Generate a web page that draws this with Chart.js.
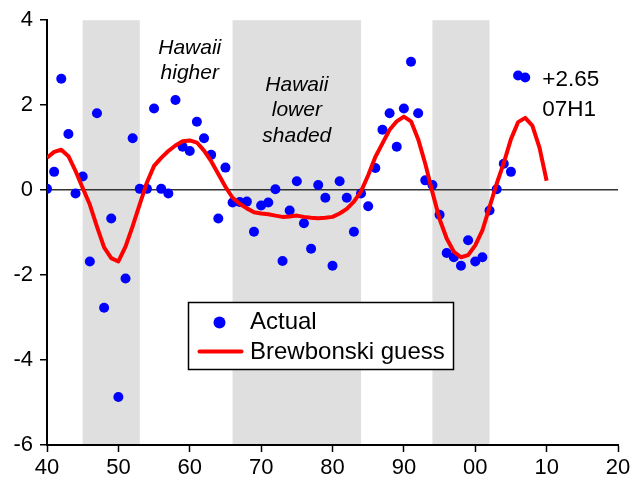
<!DOCTYPE html>
<html>
<head>
<meta charset="utf-8">
<script src="https://cdn.jsdelivr.net/npm/chart.js@4.4.1/dist/chart.umd.min.js"></script>
<style>
  html, body { margin: 0; padding: 0; background: #fff; }
</style>
</head>
<body>
<canvas id="chart" width="640" height="484"></canvas>
<script>
// actual values, one per year (40 = 1940, 100 = 2000)
const actualYears = [
  40, 41, 42, 43, 44, 45, 46, 47, 48, 49, 50, 51, 52, 53, 54, 55, 56, 57, 58, 59,
  60, 61, 62, 63, 64, 65, 66, 67, 68, 69, 70, 71, 72, 73, 74, 75, 76, 77, 78, 79,
  80, 81, 82, 83, 84, 85, 86, 87, 88, 89, 90, 91, 92, 93, 94, 95, 96, 97, 98, 99,
  100, 101, 102, 103, 104, 105, 106, 107
];
const actualValues = [
  0.03, 0.43, 2.62, 1.32, -0.08, 0.32, -1.68, 1.81, -2.77, -0.67,
  -4.87, -2.08, 1.22, 0.03, 0.03, 1.92, 0.03, -0.08, 2.12, 1.02,
  0.92, 1.61, 1.22, 0.83, -0.67, 0.53, -0.29, -0.28, -0.27, -0.98,
  -0.36, -0.29, 0.02, -1.67, -0.48, 0.21, -0.78, -1.38, 0.12, -0.18,
  -1.78, 0.21, -0.18, -0.98, -0.08, -0.38, 0.52, 1.42, 1.81, 1.02,
  1.92, 3.02, 1.81, 0.23, 0.12, -0.58, -1.48, -1.58, -1.78, -1.18,
  -1.68, -1.58, -0.48, 0.02, 0.62, 0.43, 2.70, 2.65
];

// Brewbonski guess
const guessYears = [
  40, 41, 42, 43, 44, 45, 46, 47, 48, 49, 50, 51, 52, 53, 54, 55, 56, 57, 58, 59,
  60, 61, 62, 63, 64, 65, 66, 67, 68, 69, 70, 71, 72, 73, 74, 75, 76, 77, 78, 79,
  80, 81, 82, 83, 84, 85, 86, 87, 88, 89, 90, 91, 92, 93, 94, 95, 96, 97, 98, 99,
  100, 101, 102, 103, 104, 105, 106, 107, 108, 109, 110
];
const guessValues = [
  0.76, 0.90, 0.95, 0.80, 0.45, 0.05, -0.34, -0.86, -1.35, -1.60,
  -1.68, -1.33, -0.85, -0.33, 0.18, 0.57, 0.76, 0.92, 1.05, 1.15,
  1.17, 1.12, 0.93, 0.68, 0.38, 0.08, -0.18, -0.32, -0.43, -0.52,
  -0.55, -0.57, -0.60, -0.63, -0.62, -0.60, -0.63, -0.65, -0.66, -0.65,
  -0.63, -0.55, -0.44, -0.27, -0.03, 0.35, 0.78, 1.10, 1.42, 1.62,
  1.73, 1.62, 1.20, 0.62, -0.05, -0.68, -1.14, -1.45, -1.58, -1.53,
  -1.30, -0.95, -0.40, 0.15, 0.64, 1.20, 1.60, 1.70, 1.52, 1.00,
  0.22
];

// periods when Hawaii was lower
const shadedSpans = [[45, 53], [66, 84], [94, 102]];

const notes = [
  { x: 60, y: 3.21, lines: ["Hawaii", "higher"], italic: true, size: 21, align: "center", gap: 25 },
  { x: 75, y: 2.34, lines: ["Hawaii", "lower", "shaded"], italic: true, size: 21, align: "center", gap: 25.5 },
  { x: 109.4, y: 2.44, lines: ["+2.65", "07H1"], italic: false, size: 22.5, align: "left", gap: 30 }
];

const FONT = "'Liberation Sans', Arial, Helvetica, sans-serif";
Chart.defaults.font.family = FONT;
Chart.defaults.color = "#000";

// grey bands behind everything
const shadePlugin = {
  id: "shade",
  beforeDraw(chart) {
    const { ctx, chartArea, scales } = chart;
    ctx.save();
    ctx.fillStyle = "#dfdfdf";
    shadedSpans.forEach(([a, b]) => {
      const x1 = scales.x.getPixelForValue(a);
      const x2 = scales.x.getPixelForValue(b);
      ctx.fillRect(x1, chartArea.top, x2 - x1, chartArea.bottom - chartArea.top);
    });
    ctx.restore();
  },
};

// text notes inside the plot
const notesPlugin = {
  id: "notes",
  afterDatasetsDraw(chart) {
    const { ctx, scales } = chart;
    ctx.save();
    ctx.fillStyle = "#000";
    ctx.textBaseline = "alphabetic";
    notes.forEach((n) => {
      ctx.font = (n.italic ? "italic " : "") + n.size + "px " + FONT;
      ctx.textAlign = n.align;
      const x = scales.x.getPixelForValue(n.x);
      const y = scales.y.getPixelForValue(n.y);
      n.lines.forEach((t, i) => ctx.fillText(t, x, y + i * n.gap));
    });
    ctx.restore();
  },
};

// boxed legend
const legendBox = { left: 188.5, top: 302.5, width: 265, height: 67 };
const legendPlugin = {
  id: "boxLegend",
  afterDraw(chart) {
    const ctx = chart.ctx;
    const b = legendBox;
    const ds = chart.data.datasets;
    ctx.save();
    ctx.fillStyle = "#fff";
    ctx.fillRect(b.left, b.top, b.width, b.height);
    ctx.strokeStyle = "#000";
    ctx.lineWidth = 1.5;
    ctx.strokeRect(b.left, b.top, b.width, b.height);

    // marker for the dots
    ctx.fillStyle = ds[0].backgroundColor;
    ctx.beginPath();
    ctx.arc(b.left + 31, b.top + 20, 6, 0, Math.PI * 2);
    ctx.fill();

    // marker for the line
    ctx.strokeStyle = ds[1].borderColor;
    ctx.lineWidth = 4;
    ctx.lineCap = "round";
    ctx.beginPath();
    ctx.moveTo(b.left + 11, b.top + 49);
    ctx.lineTo(b.left + 53, b.top + 49);
    ctx.stroke();

    ctx.fillStyle = "#000";
    ctx.font = "24px " + FONT;
    ctx.textAlign = "left";
    ctx.textBaseline = "alphabetic";
    ctx.fillText(ds[0].label, b.left + 61.5, b.top + 26);
    ctx.fillText(ds[1].label, b.left + 61.5, b.top + 56.5);
    ctx.restore();
  },
};

const ctx = document.getElementById("chart").getContext("2d");

new Chart(ctx, {
  type: "scatter",
  data: {
    datasets: [
      {
        label: "Actual",
        data: actualYears.map((x, i) => ({ x: x, y: actualValues[i] })),
        backgroundColor: "#0000ff",
        borderWidth: 0,
        pointRadius: 5,
        order: 2,
      },
      {
        label: "Brewbonski guess",
        type: "line",
        data: guessYears.map((x, i) => ({ x: x, y: guessValues[i] })),
        borderColor: "#ff0000",
        borderWidth: 4,
        borderJoinStyle: "round",
        pointRadius: 0,
        tension: 0,
        fill: false,
        order: 1,
      },
    ],
  },
  options: {
    responsive: false,
    animation: false,
    layout: { padding: { top: 16, right: 22, left: 0, bottom: 0 } },
    scales: {
      x: {
        type: "linear",
        min: 40,
        max: 120,
        afterFit(scale) {
          scale.height = 39;
        },
        ticks: {
          stepSize: 10,
          padding: 3,
          font: { size: 22 },
          color: "#000",
          callback: (v) => String(v % 100).padStart(2, "0"),
        },
        grid: {
          drawOnChartArea: false,
          drawTicks: true,
          tickLength: 7,
          tickColor: "#000",
          tickWidth: 1.5,
        },
        border: { display: true, color: "#000", width: 2 },
      },
      y: {
        min: -6,
        max: 4,
        afterFit(scale) {
          scale.width = 47;
        },
        ticks: {
          stepSize: 2,
          padding: 7,
          font: { size: 22 },
          color: "#000",
        },
        grid: {
          // only the zero line is drawn across the plot
          color: (c) => (c.tick && c.tick.value === 0 ? "#333" : "rgba(0,0,0,0)"),
          lineWidth: 1.5,
          drawTicks: true,
          tickLength: 7,
          tickColor: "#000",
          tickWidth: 1.5,
        },
        border: { display: true, color: "#000", width: 2 },
      },
    },
    plugins: {
      legend: { display: false },
      tooltip: { enabled: false },
    },
  },
  plugins: [shadePlugin, notesPlugin, legendPlugin],
});
</script>
</body>
</html>
